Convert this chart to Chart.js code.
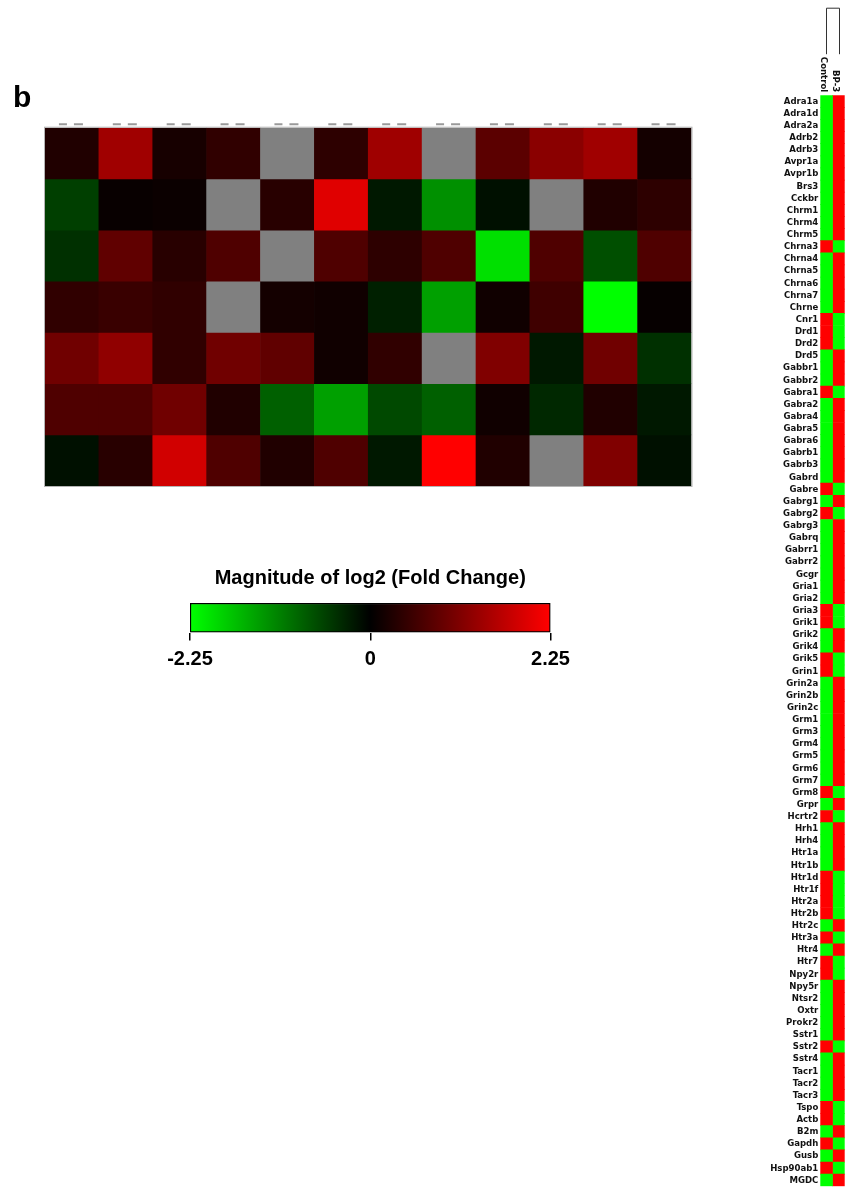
<!DOCTYPE html>
<html>
<head>
<meta charset="utf-8">
<title>Receptor expression heatmap</title>
<script src="https://cdn.jsdelivr.net/npm/chart.js@4.4.1/dist/chart.umd.min.js"></script>
<style>
  html, body { margin: 0; padding: 0; background: #fff; overflow: hidden; }
  body { width: 847px; height: 1191px; position: relative; }
  .box { position: absolute; }
</style>
</head>
<body>
<div class="box" style="left:0;top:0;width:700px;height:500px"><canvas id="panel"></canvas></div>
<div class="box" style="left:150px;top:550px;width:440px;height:140px"><canvas id="scale"></canvas></div>
<div class="box" style="left:760px;top:0;width:87px;height:1194px"><canvas id="genes"></canvas></div>
<script>
// ---- panel b: clustered log2 fold-change matrix (7 rows x 12 columns, null = no value) ----
const panelColumns = ['1', '2', '3', '4', '5', '6', '7', '8', '9', '10', '11', '12'];
const panelRow1 = [0.28, 1.41, 0.20, 0.42, null, 0.40, 1.40, null, 0.80, 1.22, 1.41, 0.18];
const panelRow2 = [-0.56, 0.07, 0.10, null, 0.35, 1.98, -0.21, -1.27, -0.14, null, 0.28, 0.40];
const panelRow3 = [-0.42, 0.85, 0.35, 0.70, null, 0.70, 0.40, 0.70, -1.98, 0.70, -0.70, 0.70];
const panelRow4 = [0.42, 0.50, 0.42, null, 0.18, 0.14, -0.28, -1.41, 0.14, 0.56, -2.25, 0.05];
const panelRow5 = [0.99, 1.27, 0.42, 0.99, 0.85, 0.14, 0.42, null, 1.13, -0.21, 0.99, -0.42];
const panelRow6 = [0.70, 0.70, 0.99, 0.28, -0.85, -1.41, -0.64, -0.85, 0.14, -0.35, 0.28, -0.21];
const panelRow7 = [-0.14, 0.35, 1.84, 0.70, 0.28, 0.70, -0.21, 2.25, 0.28, null, 1.13, -0.14];
const panelRows = [panelRow1, panelRow2, panelRow3, panelRow4, panelRow5, panelRow6, panelRow7];

// ---- colour key ----
const scaleMin = -2.25;
const scaleMax = 2.25;
const scaleTicks = [-2.25, 0, 2.25];
const scaleTickLabels = ['-2.25', '0', '2.25'];
const scaleTitle = 'Magnitude of log2 (Fold Change)';

// ---- gene panel: Control vs BP-3 ----
const sampleNames = ['Control', 'BP-3'];
const genes = [
  'Adra1a', 'Adra1d', 'Adra2a', 'Adrb2', 'Adrb3', 'Avpr1a', 'Avpr1b', 'Brs3', 'Cckbr', 'Chrm1',
  'Chrm4', 'Chrm5', 'Chrna3', 'Chrna4', 'Chrna5', 'Chrna6', 'Chrna7', 'Chrne', 'Cnr1', 'Drd1',
  'Drd2', 'Drd5', 'Gabbr1', 'Gabbr2', 'Gabra1', 'Gabra2', 'Gabra4', 'Gabra5', 'Gabra6', 'Gabrb1',
  'Gabrb3', 'Gabrd', 'Gabre', 'Gabrg1', 'Gabrg2', 'Gabrg3', 'Gabrq', 'Gabrr1', 'Gabrr2', 'Gcgr',
  'Gria1', 'Gria2', 'Gria3', 'Grik1', 'Grik2', 'Grik4', 'Grik5', 'Grin1', 'Grin2a', 'Grin2b',
  'Grin2c', 'Grm1', 'Grm3', 'Grm4', 'Grm5', 'Grm6', 'Grm7', 'Grm8', 'Grpr', 'Hcrtr2',
  'Hrh1', 'Hrh4', 'Htr1a', 'Htr1b', 'Htr1d', 'Htr1f', 'Htr2a', 'Htr2b', 'Htr2c', 'Htr3a',
  'Htr4', 'Htr7', 'Npy2r', 'Npy5r', 'Ntsr2', 'Oxtr', 'Prokr2', 'Sstr1', 'Sstr2', 'Sstr4',
  'Tacr1', 'Tacr2', 'Tacr3', 'Tspo', 'Actb', 'B2m', 'Gapdh', 'Gusb', 'Hsp90ab1', 'MGDC'
];
const controlLog2 = [
  -2.25, -2.25, -2.25, -2.25, -2.25, -2.25, -2.25, -2.25, -2.25, -2.25,
  -2.25, -2.25, 2.25, -2.25, -2.25, -2.25, -2.25, -2.25, 2.25, 2.25,
  2.25, -2.25, -2.25, -2.25, 2.25, -2.25, -2.25, -2.25, -2.25, -2.25,
  -2.25, -2.25, 2.25, -2.25, 2.25, -2.25, -2.25, -2.25, -2.25, -2.25,
  -2.25, -2.25, 2.25, 2.25, -2.25, -2.25, 2.25, 2.25, -2.25, -2.25,
  -2.25, -2.25, -2.25, -2.25, -2.25, -2.25, -2.25, 2.25, -2.25, 2.25,
  -2.25, -2.25, -2.25, -2.25, 2.25, 2.25, 2.25, 2.25, -2.25, 2.25,
  -2.25, 2.25, 2.25, -2.25, -2.25, -2.25, -2.25, -2.25, 2.25, -2.25,
  -2.25, -2.25, -2.25, 2.25, 2.25, -2.25, 2.25, -2.25, 2.25, -2.25
];
const bp3Log2 = [
  2.25, 2.25, 2.25, 2.25, 2.25, 2.25, 2.25, 2.25, 2.25, 2.25,
  2.25, 2.25, -2.25, 2.25, 2.25, 2.25, 2.25, 2.25, -2.25, -2.25,
  -2.25, 2.25, 2.25, 2.25, -2.25, 2.25, 2.25, 2.25, 2.25, 2.25,
  2.25, 2.25, -2.25, 2.25, -2.25, 2.25, 2.25, 2.25, 2.25, 2.25,
  2.25, 2.25, -2.25, -2.25, 2.25, 2.25, -2.25, -2.25, 2.25, 2.25,
  2.25, 2.25, 2.25, 2.25, 2.25, 2.25, 2.25, -2.25, 2.25, -2.25,
  2.25, 2.25, 2.25, 2.25, -2.25, -2.25, -2.25, -2.25, 2.25, -2.25,
  2.25, -2.25, -2.25, 2.25, 2.25, 2.25, 2.25, 2.25, -2.25, 2.25,
  2.25, 2.25, 2.25, -2.25, -2.25, 2.25, -2.25, 2.25, -2.25, 2.25
];

// green (down) - black - red (up), saturating at the key limits
function heatColor(v) {
  if (v === null) return '#808080';
  const t = Math.max(-1, Math.min(1, v / scaleMax));
  const c = Math.round(255 * Math.abs(t));
  return t >= 0 ? `rgb(${c},0,0)` : `rgb(0,${c},0)`;
}

const labelFont = '"DejaVu Sans Condensed", "DejaVu Sans", sans-serif';
const headFont = '"Liberation Sans", Arial, Helvetica, sans-serif';

// panel letter, column stubs above the matrix and a thin frame
const panelDecor = {
  id: 'panelDecor',
  afterDraw(chart) {
    const { ctx, chartArea: a, scales: { x } } = chart;
    ctx.save();
    ctx.fillStyle = '#000';
    ctx.font = `bold 30px ${headFont}`;
    ctx.textAlign = 'left';
    ctx.textBaseline = 'alphabetic';
    ctx.fillText('b', 13, 107);

    ctx.strokeStyle = '#9a9a9a';
    ctx.lineWidth = 2;
    panelColumns.forEach((c, i) => {
      const cx = x.getPixelForValue(i);
      const y = a.top - 3.5;
      ctx.beginPath();
      ctx.moveTo(cx - 13, y); ctx.lineTo(cx - 5, y);
      ctx.moveTo(cx + 2, y); ctx.lineTo(cx + 11, y);
      ctx.stroke();
    });

    ctx.strokeStyle = '#b4b4b4';
    ctx.lineWidth = 1;
    ctx.strokeRect(a.left - 0.5, a.top - 0.5, a.right - a.left + 1, a.bottom - a.top + 1);
    ctx.restore();
  }
};

new Chart(document.getElementById('panel'), {
  type: 'bar',
  data: {
    labels: panelColumns,
    datasets: panelRows.map((vals, r) => ({
      data: vals.map(() => [r, r + 1]),
      backgroundColor: vals.map(heatColor),
      borderWidth: 0,
      barPercentage: 1,
      categoryPercentage: 1,
      grouped: false
    }))
  },
  options: {
    responsive: true,
    maintainAspectRatio: false,
    animation: false,
    layout: { padding: { left: 45, top: 127.7, right: 8.5, bottom: 14 } },
    plugins: { legend: { display: false }, tooltip: { enabled: false } },
    scales: {
      x: { display: false },
      y: { display: false, min: 0, max: panelRows.length, reverse: true }
    }
  },
  plugins: [panelDecor]
});

// colour key
new Chart(document.getElementById('scale'), {
  type: 'bar',
  data: {
    labels: [''],
    datasets: [{
      data: [[scaleMin, scaleMax]],
      backgroundColor(ctx) {
        const area = ctx.chart.chartArea;
        if (!area) return '#000';
        const g = ctx.chart.ctx.createLinearGradient(area.left, 0, area.right, 0);
        g.addColorStop(0, heatColor(scaleMin));
        g.addColorStop(0.5, heatColor(0));
        g.addColorStop(1, heatColor(scaleMax));
        return g;
      },
      borderColor: '#000',
      borderWidth: 1.5,
      borderSkipped: false,
      barPercentage: 1,
      categoryPercentage: 1
    }]
  },
  options: {
    indexAxis: 'y',
    responsive: true,
    maintainAspectRatio: false,
    animation: false,
    layout: { padding: { left: 40, right: 39.5, top: 0, bottom: 0 } },
    plugins: {
      legend: { display: false },
      tooltip: { enabled: false },
      title: {
        display: true,
        text: scaleTitle,
        color: '#000',
        font: { family: headFont, size: 20, weight: 'bold' },
        padding: { top: 16, bottom: 13 }
      }
    },
    scales: {
      y: { display: false },
      x: {
        min: scaleMin,
        max: scaleMax,
        afterBuildTicks(s) { s.ticks = scaleTicks.map(v => ({ value: v })); },
        afterFit(s) { s.height = 57.5; },
        ticks: {
          autoSkip: false,
          maxRotation: 0,
          padding: 7,
          color: '#000',
          font: { family: headFont, size: 20, weight: 'bold' },
          callback: (v) => scaleTickLabels[scaleTicks.indexOf(v)]
        },
        grid: { drawOnChartArea: false, drawTicks: true, tickLength: 8, color: '#000', lineWidth: 1.5 },
        border: { display: false }
      }
    }
  }
});

// sample names (rotated) and the dendrogram joining the two samples
const geneHeader = {
  id: 'geneHeader',
  afterDraw(chart) {
    const { ctx, chartArea: a, scales: { x } } = chart;
    ctx.save();
    ctx.fillStyle = '#111';
    ctx.font = `bold 9.5px ${labelFont}`;
    ctx.textAlign = 'right';
    ctx.textBaseline = 'middle';
    sampleNames.forEach((name, i) => {
      const cx = x.getPixelForValue(i + 0.5);
      ctx.save();
      ctx.translate(cx - 3, a.top - 3);
      ctx.rotate(Math.PI / 2);
      ctx.fillText(name, 0, 0);
      ctx.restore();
    });
    const x0 = Math.round(x.getPixelForValue(0.5)) + 0.5;
    const x1 = Math.round(x.getPixelForValue(1.5)) + 0.5;
    const top = a.top - 87;
    const bottom = a.top - 41;
    ctx.strokeStyle = '#333';
    ctx.lineWidth = 1;
    ctx.beginPath();
    ctx.moveTo(x0, bottom); ctx.lineTo(x0, top); ctx.lineTo(x1, top); ctx.lineTo(x1, bottom);
    ctx.stroke();
    ctx.restore();
  }
};

new Chart(document.getElementById('genes'), {
  type: 'bar',
  data: {
    labels: genes,
    datasets: [
      { data: genes.map(() => [0, 1]), backgroundColor: controlLog2.map(heatColor) },
      { data: genes.map(() => [1, 2]), backgroundColor: bp3Log2.map(heatColor) }
    ].map(d => Object.assign(d, { borderWidth: 0, barPercentage: 1, categoryPercentage: 1, grouped: false }))
  },
  options: {
    indexAxis: 'y',
    responsive: true,
    maintainAspectRatio: false,
    animation: false,
    layout: { padding: { left: 0, right: 2.3, top: 95.2, bottom: 0 } },
    plugins: { legend: { display: false }, tooltip: { enabled: false } },
    scales: {
      x: { display: false, min: 0, max: sampleNames.length },
      y: {
        afterFit(s) { s.width = 60.3; },
        grid: { display: false, drawTicks: false },
        border: { display: false },
        ticks: {
          autoSkip: false,
          padding: 2,
          color: '#111',
          font: { family: labelFont, size: 9.5, weight: 'bold' }
        }
      }
    }
  },
  plugins: [geneHeader]
});
</script>
</body>
</html>
